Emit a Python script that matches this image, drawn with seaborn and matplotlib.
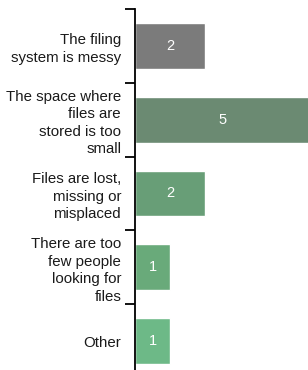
import matplotlib
matplotlib.use("Agg")
import matplotlib.pyplot as plt
import seaborn as sns
import pandas as pd
import numpy as np
from matplotlib.ticker import FixedLocator

categories = [
    "The filing\nsystem is messy",
    "The space where\nfiles are\nstored is too\nsmall",
    "Files are lost,\nmissing or\nmisplaced",
    "There are too\nfew people\nlooking for\nfiles",
    "Other",
]
values = [2, 5, 2, 1, 1]
colors = ["#7b7b7b", "#6b8a72", "#689e77", "#69aa7a", "#6db987"]

sns.set_style("white")
plt.rcParams["font.family"] = ["Liberation Sans", "DejaVu Sans"]

df = pd.DataFrame({"cat": categories, "val": values})

fig = plt.figure(figsize=(3.08, 3.70), dpi=100)
ax = fig.add_axes([135 / 308, -8 / 370, 175 / 308, 369 / 370])

sns.barplot(data=df, y="cat", x="val", hue="cat", palette=colors,
            orient="h", width=0.62, legend=False, ax=ax, saturation=1)

ax.set_xlim(0, 5)
ax.set_ylim(len(categories) - 0.5, -0.5)

for c in ax.containers:
    ax.bar_label(c, label_type="center", color="white", fontsize=10.5)

for s in ["top", "right", "bottom"]:
    ax.spines[s].set_visible(False)
ax.spines["left"].set_color("black")
ax.spines["left"].set_linewidth(1.3)

ax.set_xticks([])
ax.set_xlabel("")
ax.set_ylabel("")
ax.tick_params(axis="y", which="major", length=0, pad=10, labelsize=10.8, labelcolor="#1a1a1a")
for lab in ax.get_yticklabels():
    lab.set_linespacing(1.33)
ax.yaxis.set_minor_locator(FixedLocator(np.arange(-0.5, len(categories), 1.0)))
ax.tick_params(axis="y", which="minor", length=7, width=1.3, color="black", left=True)

fig.savefig("out.png", dpi=100)
